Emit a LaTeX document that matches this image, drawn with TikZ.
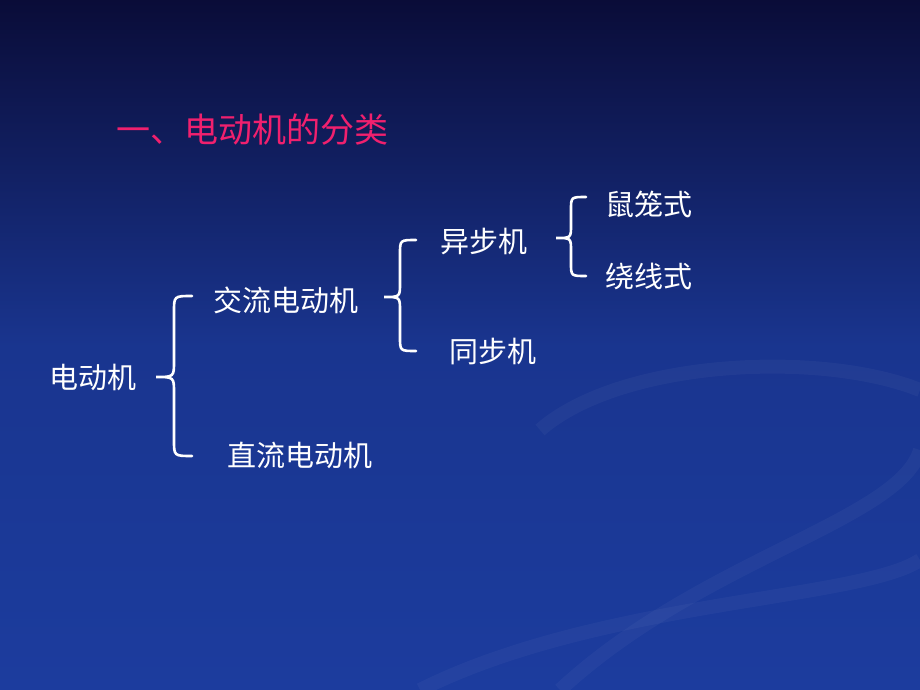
\documentclass[tikz,border=0pt]{standalone}
\usepackage{fontspec}
\newfontfamily\cjk{Noto Sans CJK SC}
\definecolor{bgtop}{HTML}{0A0C38}
\definecolor{bgbot}{HTML}{1C3C9E}
\definecolor{titlec}{HTML}{F0206E}
\begin{document}
\begin{tikzpicture}[x=1pt,y=-1pt,
  lbl/.style={text=white,font=\cjk\fontsize{29}{31}\selectfont,inner sep=0pt},
  br/.style={draw=white,line width=2.6pt,line cap=round}]
\shade[top color=bgtop,bottom color=bgbot,middle color=bgbot!85!bgtop] (0,0) rectangle (920,690);
\useasboundingbox (0,0) rectangle (920,690);
% faint swooshes
\begin{scope}[draw=white,opacity=0.035,line width=14pt]
\draw (560,690) .. controls (700,560) and (900,520) .. (920,450);
\draw (420,690) .. controls (600,600) and (860,600) .. (920,560);
\draw (540,430) .. controls (620,360) and (820,350) .. (920,390);
\end{scope}
\node[text=titlec,font=\cjk\fontsize{34}{36}\selectfont,inner sep=0pt] (title) at (252,130) {一、电动机的分类};
\node[lbl] (dd) at (93,377) {电动机};
\node[lbl] (jl) at (286,300) {交流电动机};
\node[lbl] (zl) at (300,455) {直流电动机};
\node[lbl] (yb) at (484,242) {异步机};
\node[lbl] (tb) at (493,352) {同步机};
\node[lbl] (sl) at (649,204) {鼠笼式};
\node[lbl] (rx) at (649,276) {绕线式};
\newcommand{\mybrace}[6]{% xl xr top mid bot r
  \pgfmathsetmacro{\xm}{(#1+#2)/2}
  \draw[br] (#2,#3) .. controls (\xm,#3) .. (\xm,#3+#6) -- (\xm,#4-#6)
    .. controls (\xm,#4) .. (#1,#4) .. controls (\xm,#4) .. (\xm,#4+#6)
    -- (\xm,#5-#6) .. controls (\xm,#5) .. (#2,#5);}
\mybrace{156}{192}{296}{377}{456}{16}
\mybrace{384}{416}{240}{297}{351}{14}
\mybrace{556}{586}{197}{238}{276}{13}
\end{tikzpicture}
\end{document}
